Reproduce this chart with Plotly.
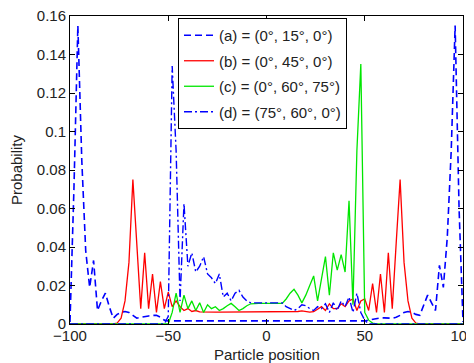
import plotly.graph_objects as go

# Particle positions (even sites after 100 steps)
positions = list(range(-100, 101, 2))

# (a) = (0°, 15°, 0°)  -- blue dashed
prob_a = [
    0.001, 0.07, 0.155, 0.085, 0.038, 0.019, 0.033, 0.007, 0.012, 0.016,   # -100..-82
    0.009, 0.003, 0.005, 0.006, 0.0065, 0.006, 0.0045, 0.003, 0.0035, 0.004,  # -80..-62
    0.0042, 0.0045, 0.0045, 0.0035, 0.002,                                   # -60..-52
    0.0016, 0.0016, 0.0016, 0.0016, 0.0016, 0.0016, 0.0016, 0.0016, 0.0016, 0.0016,  # -50..-32
    0.0016, 0.0016, 0.0016, 0.0016, 0.0016, 0.0016, 0.0016, 0.0016, 0.0016, 0.0016,  # -30..-12
    0.0016, 0.0016, 0.0016, 0.0016, 0.0016, 0.0016, 0.0016, 0.0016, 0.0016, 0.0016,  # -10..8
    0.0016, 0.0016, 0.0016, 0.0016, 0.0016, 0.0016, 0.0016, 0.0016, 0.0016, 0.0016,  # 10..28
    0.0016, 0.0016, 0.0016, 0.0016, 0.0016, 0.0016, 0.0016, 0.0016, 0.0016, 0.0016,  # 30..48
    0.0016,                                                                  # 50
    0.002, 0.0025, 0.003, 0.0032, 0.0032, 0.003, 0.003, 0.0035, 0.0045, 0.006,  # 52..70
    0.0065, 0.006, 0.005, 0.0045, 0.01, 0.015, 0.011, 0.007, 0.0305, 0.019,  # 72..90
    0.045, 0.09, 0.155, 0.06, 0.001,                                        # 92..100
]

# (b) = (0°, 45°, 0°)  -- red solid
prob_b = [
    0, 0, 0, 0, 0, 0, 0, 0, 0, 0,                 # -100..-82
    0, 0, 0.0005, 0.003, 0.012, 0.032, 0.075, 0.042, 0.008, 0.037,  # -80..-62
    0.008, 0.026, 0.006, 0.022, 0.008,            # -60..-52
    0.0166, 0.009, 0.012, 0.009, 0.007, 0.008, 0.0065, 0.007, 0.0063, 0.0062,  # -50..-32
    0.0062, 0.0062, 0.0062, 0.0062, 0.0062, 0.0062, 0.0062, 0.0062, 0.0062, 0.0062,  # -30..-12
    0.0062, 0.0062, 0.0062, 0.0062, 0.0062, 0.0062, 0.0062, 0.0062, 0.0062, 0.0062,  # -10..8
    0.0062, 0.0062, 0.0063, 0.0065, 0.0068, 0.0065, 0.0062, 0.0064, 0.0075, 0.009,  # 10..28
    0.007, 0.0105, 0.008, 0.008, 0.0105, 0.009, 0.012, 0.013, 0.007, 0.012,  # 30..48
    0.013,                                        # 50
    0.007, 0.021, 0.006, 0.026, 0.006, 0.037, 0.008, 0.042, 0.075, 0.032,  # 52..70
    0.012, 0.003, 0.0005, 0, 0, 0, 0, 0, 0, 0,   # 72..90
    0, 0, 0, 0, 0,                                # 92..100
]

# (c) = (0°, 60°, 75°)  -- green solid
prob_c = [
    0, 0, 0, 0, 0, 0, 0, 0, 0, 0,                 # -100..-82
    0, 0, 0, 0, 0, 0, 0, 0, 0, 0,                 # -80..-62
    0, 0, 0, 0, 0,                                # -60..-52
    0, 0.006, 0.016, 0.006, 0.015, 0.008, 0.012, 0.007, 0.011, 0.006,  # -50..-32
    0.010, 0.008, 0.009, 0.007, 0.008, 0.0095, 0.0107, 0.009, 0.007, 0.008,  # -30..-12
    0.0095, 0.0105, 0.0107, 0.0107, 0.0107, 0.0107, 0.0107, 0.0107, 0.0107, 0.0107,  # -10..8
    0.013, 0.016, 0.018, 0.015, 0.011, 0.015, 0.020, 0.025, 0.012, 0.023,  # 10..28
    0.035, 0.015, 0.037, 0.028, 0.036, 0.027, 0.064, 0.010, 0.09, 0.135,  # 30..48
    0.006,                                        # 50
    0.002, 0.0005, 0, 0, 0, 0, 0, 0, 0, 0,        # 52..70
    0, 0, 0, 0, 0, 0, 0, 0, 0, 0,                 # 72..90
    0, 0, 0, 0, 0,                                # 92..100
]

# (d) = (75°, 60°, 0°)  -- blue dash-dot
prob_d = [
    0, 0, 0, 0, 0, 0, 0, 0, 0, 0,                 # -100..-82
    0, 0, 0, 0, 0, 0, 0, 0, 0, 0,                 # -80..-62
    0, 0, 0, 0, 0,                                # -60..-52
    0.004, 0.134, 0.09, 0.012, 0.0625, 0.030, 0.037, 0.027, 0.030, 0.035,  # -50..-32
    0.026, 0.024, 0.021, 0.026, 0.014, 0.016, 0.012, 0.016, 0.0175, 0.014,  # -30..-12
    0.012, 0.011, 0.011, 0.011, 0.011, 0.011, 0.011, 0.011, 0.011, 0.011,  # -10..8
    0.009, 0.008, 0.007, 0.008, 0.010, 0.0095, 0.008, 0.007, 0.009, 0.008,  # 10..28
    0.0105, 0.006, 0.011, 0.007, 0.012, 0.009, 0.014, 0.006, 0.016, 0.006,  # 30..48
    0.002,                                        # 50
    0, 0, 0, 0, 0, 0, 0, 0, 0, 0,                 # 52..70
    0, 0, 0, 0, 0, 0, 0, 0, 0, 0,                 # 72..90
    0, 0, 0, 0, 0,                                # 92..100
]

series_names = [
    "(a) = (0°, 15°, 0°)",
    "(b) = (0°, 45°, 0°)",
    "(c) = (0°, 60°, 75°)",
    "(d) = (75°, 60°, 0°)",
]

x_tick_vals = [-100, -50, 0, 50, 100]
x_tick_text = ["\u2212100", "\u221250", "0", "50", "100"]
y_tick_vals = [0, 0.02, 0.04, 0.06, 0.08, 0.1, 0.12, 0.14, 0.16]
y_tick_text = ["0", "0.02", "0.04", "0.06", "0.08", "0.1", "0.12", "0.14", "0.16"]
x_title = "Particle position"
y_title = "Probability"

styles = [
    dict(color="#0000ff", width=1.6, dash="7px,4px"),
    dict(color="#ff0000", width=1.3),
    dict(color="#00e600", width=1.3),
    dict(color="#0000ff", width=1.4, dash="8px,3px,2px,3px"),
]

fig = go.Figure()
for name, ys, st in zip(series_names, [prob_a, prob_b, prob_c, prob_d], styles):
    fig.add_trace(go.Scatter(x=positions, y=ys, mode="lines", name=name,
                             line=st, legendgroup=name))

font_family = "Liberation Sans, Arial, Helvetica, sans-serif"

# the page body adds an 8px offset, so margins are shifted by 8px
fig.update_layout(
    width=474, height=363,
    margin=dict(l=62, r=19, t=8, b=47, autoexpand=False),
    paper_bgcolor="white", plot_bgcolor="white",
    font=dict(family=font_family, size=15, color="#222222"),
    showlegend=True,
    legend=dict(
        x=0.2748, y=0.9935, xanchor="left", yanchor="top",
        bgcolor="white", bordercolor="black", borderwidth=1,
        font=dict(size=15, color="#222222"),
        traceorder="grouped", tracegroupgap=3,
        itemwidth=30,
    ),
    annotations=[
        dict(text=x_title, xref="paper", yref="paper", x=0.5, y=-0.0975,
             xanchor="center", yanchor="middle", showarrow=False,
             font=dict(size=15, color="#222222")),
    ],
)

axis_common = dict(
    showline=True, linecolor="black", linewidth=1, mirror="ticks",
    ticks="inside", ticklen=5, tickcolor="black", tickwidth=1,
    showgrid=False, zeroline=False, ticklabeloverflow="allow",
    tickfont=dict(family=font_family, size=15, color="#222222"),
)

fig.update_xaxes(range=[-100, 100], tickvals=x_tick_vals, ticktext=x_tick_text,
                 ticklabelstandoff=-2, automargin=False, **axis_common)
fig.update_yaxes(range=[0, 0.16], tickvals=y_tick_vals, ticktext=y_tick_text,
                 automargin=False,
                 title=dict(text=y_title, standoff=14,
                            font=dict(size=15, color="#222222")),
                 **axis_common)

fig.write_html("out.html")
